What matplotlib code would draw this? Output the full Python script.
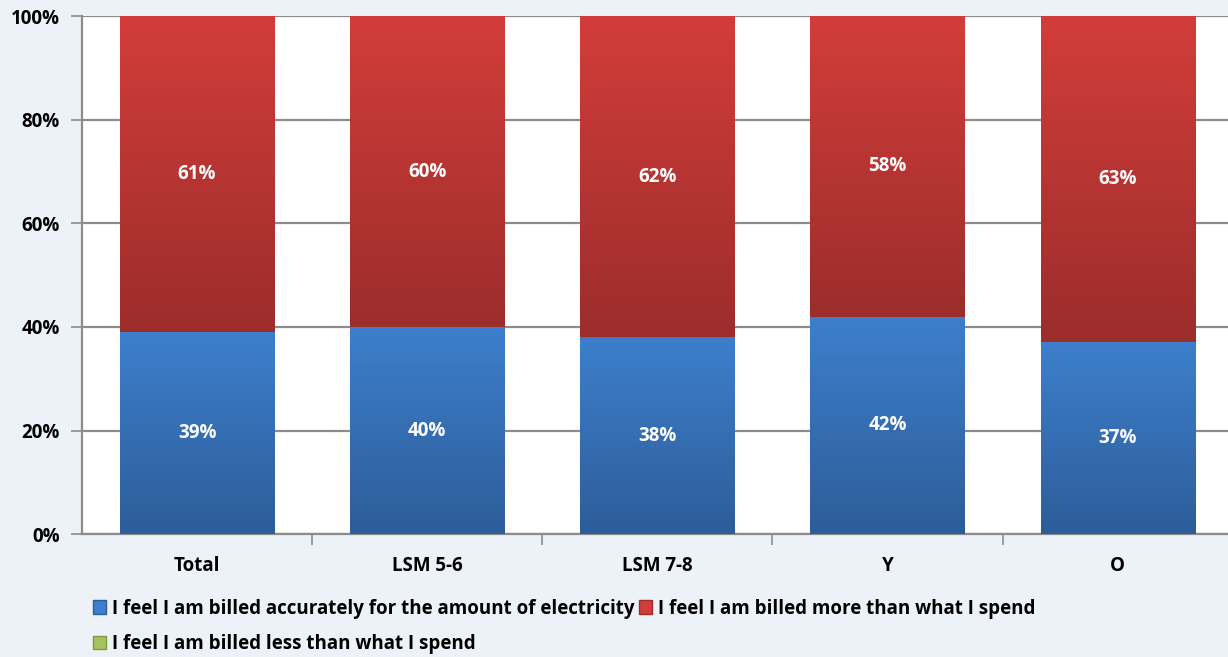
import numpy as np
import matplotlib
matplotlib.use("Agg")
import matplotlib.pyplot as plt
from matplotlib.patches import Patch
from matplotlib.colors import LinearSegmentedColormap

categories = ["Total", "LSM 5-6", "LSM 7-8", "Y", "O"]
accurate = [39, 40, 38, 42, 37]
more = [61, 60, 62, 58, 63]
less = [0, 0, 0, 0, 0]

labels = [
    "I feel I am billed accurately for the amount of electricity",
    "I feel I am billed more than what I spend",
    "I feel I am billed less than what I spend",
]

# top colour, bottom colour for each series
BLUE = ("#3d7fcc", "#2d5d99")
RED = ("#d23d3a", "#9c2d2b")
GREEN = ("#a6c35f", "#7f9a3d")

plt.rcParams["font.family"] = ["Open Sans", "DejaVu Sans"]
plt.rcParams["font.weight"] = "bold"
FS = 13.5

fig = plt.figure(figsize=(12.28, 6.57), dpi=100, facecolor="#edf2f8")
ax = fig.add_axes([0.0668, 0.187, 0.937, 0.7885])
ax.set_facecolor("white")

width = 0.67
grad = np.linspace(0, 1, 256).reshape(-1, 1)


def gradient_bar(x, bottom, height, colors):
    cmap = LinearSegmentedColormap.from_list("g", [colors[1], colors[0]])
    ax.imshow(grad, cmap=cmap, aspect="auto", origin="lower",
              extent=[x - width / 2, x + width / 2, bottom, bottom + height],
              zorder=3, interpolation="bicubic", vmin=0, vmax=1)


x = np.arange(len(categories))
for i in range(len(categories)):
    gradient_bar(x[i], 0, accurate[i], BLUE)
    gradient_bar(x[i], accurate[i], more[i], RED)
    ax.text(x[i], accurate[i] / 2, f"{accurate[i]}%", ha="center", va="center",
            color="white", fontsize=FS, fontweight="bold", zorder=5)
    ax.text(x[i], accurate[i] + more[i] / 2, f"{more[i]}%", ha="center", va="center",
            color="white", fontsize=FS, fontweight="bold", zorder=5)

ax.set_xlim(-0.5, len(categories) - 0.5)
ax.set_ylim(0, 100)

ax.set_yticks(range(0, 101, 20))
ax.set_yticklabels([f"{v}%" for v in range(0, 101, 20)], fontsize=FS, fontweight="bold")
ax.yaxis.grid(True, color="#8c8c8c", linewidth=1.6, zorder=1)
ax.set_axisbelow(True)

ax.set_xticks(x)
ax.set_xticklabels(categories, fontsize=FS, fontweight="bold")
ax.tick_params(axis="x", length=0, pad=16)
ax.set_xticks(np.arange(0.5, len(categories) - 0.5, 1), minor=True)
ax.tick_params(axis="x", which="minor", length=8, width=1.2, color="#8c8c8c")
ax.tick_params(axis="y", length=8, width=1.2, color="#8c8c8c", pad=8)

for side in ["top", "right"]:
    ax.spines[side].set_visible(False)
for side in ["left", "bottom"]:
    ax.spines[side].set_color("#8c8c8c")
    ax.spines[side].set_linewidth(1.6)

handles = [
    Patch(facecolor=BLUE[0], edgecolor=BLUE[1], label=labels[0]),
    Patch(facecolor=GREEN[0], edgecolor=GREEN[1], label=labels[2]),
    Patch(facecolor=RED[0], edgecolor=RED[1], label=labels[1]),
]
fig.legend(handles=handles, loc="upper left", bbox_to_anchor=(0.076, 0.089),
           ncol=2, frameon=False, handlelength=0.7, handleheight=0.7,
           handletextpad=0.3, columnspacing=0.25, labelspacing=0.85, borderaxespad=0,
           borderpad=0, prop={"weight": "bold", "size": FS})

fig.savefig("out.png", dpi=100, facecolor=fig.get_facecolor())
